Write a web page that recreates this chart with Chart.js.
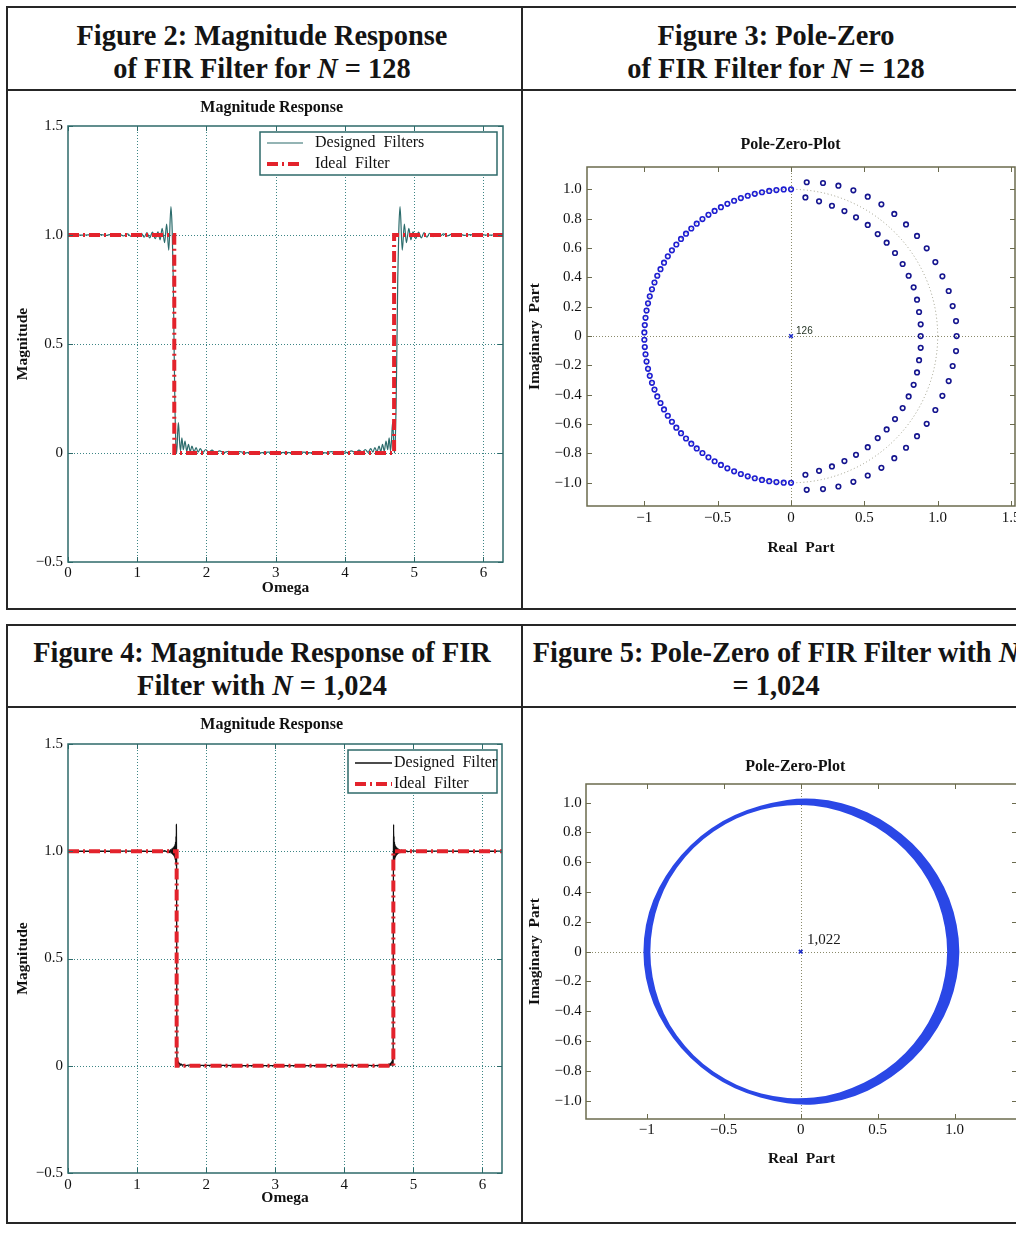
<!DOCTYPE html>
<html><head><meta charset="utf-8"><title>FIR filter figures</title>
<script src="https://cdn.jsdelivr.net/npm/chart.js@4.4.1/dist/chart.umd.min.js"></script>
<style>
html,body{margin:0;padding:0;width:1016px;height:1238px;overflow:hidden;background:#fff;}
.ln{position:absolute;background:#262626;}
.hd{position:absolute;font-family:"Liberation Serif","Times New Roman",serif;font-weight:bold;font-size:28.4px;line-height:33px;text-align:center;color:#141414;white-space:nowrap;}
canvas{position:absolute;}
</style></head><body>
<!-- top table -->
<div class="ln" style="left:6px;top:6px;width:1100px;height:2px"></div>
<div class="ln" style="left:6px;top:6px;width:2px;height:604px"></div>
<div class="ln" style="left:521px;top:6px;width:1.5px;height:604px"></div>
<div class="ln" style="left:6px;top:89px;width:1100px;height:2px"></div>
<div class="ln" style="left:6px;top:608px;width:1100px;height:2px"></div>
<!-- bottom table -->
<div class="ln" style="left:6px;top:624px;width:1100px;height:1.5px"></div>
<div class="ln" style="left:6px;top:624px;width:2px;height:600px"></div>
<div class="ln" style="left:521px;top:624px;width:1.5px;height:600px"></div>
<div class="ln" style="left:6px;top:706px;width:1100px;height:2px"></div>
<div class="ln" style="left:6px;top:1222px;width:1100px;height:2px"></div>

<div class="hd" style="left:6px;top:18.5px;width:512px">Figure 2: Magnitude Response<br>of FIR Filter for <i>N</i> = 128</div>
<div class="hd" style="left:522px;top:18.5px;width:508px">Figure 3: Pole-Zero<br>of FIR Filter for <i>N</i> = 128</div>
<div class="hd" style="left:6px;top:635.5px;width:512px">Figure 4: Magnitude Response of FIR<br>Filter with <i>N</i> = 1,024</div>
<div class="hd" style="left:522px;top:635.5px;width:508px">Figure 5: Pole-Zero of FIR Filter with <i>N</i><br>= 1,024</div>

<canvas id="c1" width="512" height="515" style="left:8px;top:92px"></canvas>
<canvas id="c2" width="520" height="515" style="left:523px;top:92px"></canvas>
<canvas id="c3" width="512" height="513" style="left:8px;top:709px"></canvas>
<canvas id="c4" width="520" height="513" style="left:523px;top:709px"></canvas>

<script>
// ---------- tick values and labels ----------
const omegaTicks = [0, 1, 2, 3, 4, 5, 6];
const omegaTickLabels = ['0', '1', '2', '3', '4', '5', '6'];
const magTicks = [-0.5, 0, 0.5, 1.0, 1.5];
const magTickLabels = ['\u22120.5', '0', '0.5', '1.0', '1.5'];
const reTicks128 = [-1, -0.5, 0, 0.5, 1.0, 1.5];
const reTickLabels128 = ['\u22121', '\u22120.5', '0', '0.5', '1.0', '1.5'];
const reTicks1024 = [-1, -0.5, 0, 0.5, 1.0];
const reTickLabels1024 = ['\u22121', '\u22120.5', '0', '0.5', '1.0'];
const imTicks = [-1.0, -0.8, -0.6, -0.4, -0.2, 0, 0.2, 0.4, 0.6, 0.8, 1.0];
const imTickLabels = ['\u22121.0', '\u22120.8', '\u22120.6', '\u22120.4', '\u22120.2', '0', '0.2', '0.4', '0.6', '0.8', '1.0'];

// ---------- Figure 2: magnitude response, N = 128 ----------
const fig2Omega = [0.00,0.10,0.20,0.30,0.40,0.48,0.55,0.62,0.68,0.74,0.80,0.86,0.91,0.96,1.01,1.06,1.10,1.14,1.18,1.22,1.26,1.30,1.33,1.36,1.395,1.425,1.455,1.487,1.505,1.520,1.532,1.545,1.557,1.570,1.585,1.595,1.610,1.625,1.645,1.665,1.690,1.715,1.740,1.765,1.790,1.820,1.850,1.880,1.910,1.950,1.990,2.030,2.080,2.130,2.190,2.250,2.320,2.400,2.480,2.570,2.670,2.780,2.900,3.020,3.140,
  3.263,3.383,3.503,3.613,3.713,3.803,3.883,3.963,4.033,4.093,4.153,4.203,4.253,4.293,4.333,4.373,4.403,4.433,4.463,4.493,4.518,4.543,4.568,4.593,4.618,4.638,4.658,4.673,4.688,4.698,4.713,4.726,4.738,4.751,4.763,4.778,4.796,4.828,4.858,4.888,4.923,4.953,4.983,5.023,5.063,5.103,5.143,5.183,5.223,5.273,5.323,5.373,5.423,5.483,5.543,5.603,5.663,5.733,5.803,5.883,5.983,6.083,6.183,6.283];
const fig2Mag = [1.000,1.001,0.999,1.001,0.999,1.002,0.998,1.003,0.997,1.004,0.996,1.005,0.994,1.006,0.993,1.008,0.990,1.011,0.987,1.013,0.983,1.015,0.978,1.030,0.965,1.050,0.930,1.130,1.020,0.800,0.500,0.200,0.040,0.000,0.100,0.140,0.060,0.010,0.070,0.015,0.055,0.008,0.040,0.006,0.032,0.005,0.025,0.004,0.020,0.003,0.016,0.003,0.013,0.002,0.010,0.002,0.008,0.002,0.006,0.001,0.005,0.001,0.004,0.001,0.003,
  0.001,0.004,0.001,0.005,0.001,0.006,0.002,0.008,0.002,0.010,0.002,0.013,0.003,0.016,0.003,0.020,0.004,0.025,0.005,0.032,0.006,0.040,0.008,0.055,0.015,0.070,0.010,0.060,0.140,0.100,0.000,0.040,0.200,0.500,0.800,1.020,1.130,0.930,1.050,0.965,1.030,0.978,1.015,0.983,1.013,0.987,1.011,0.990,1.008,0.993,1.006,0.994,1.005,0.996,1.004,0.997,1.003,0.998,1.002,0.999,1.001,0.999,1.001,1.000];
const idealOmega128 = [0, 1.535, 1.535, 4.71, 4.71, 6.283];
const idealMag128 = [1, 1, 0, 0, 1, 1];

// ---------- Figure 4: magnitude response, N = 1024 ----------
const fig4Omega = [0.00,0.60,1.00,1.20,1.30,1.36,1.40,1.43,1.455,1.470,1.485,1.495,1.505,1.513,1.520,1.527,1.533,1.538,1.543,1.547,1.551,1.554,1.557,1.560,1.563,1.566,1.569,1.572,1.574,1.576,1.578,1.581,1.584,1.587,1.591,1.595,1.600,1.606,1.613,1.621,1.630,1.642,1.656,1.672,1.70,1.75,1.85,2.00,2.50,3.14,
  3.783,4.283,4.433,4.533,4.583,4.611,4.627,4.641,4.653,4.662,4.670,4.677,4.683,4.688,4.692,4.696,4.699,4.702,4.705,4.707,4.709,4.711,4.714,4.717,4.720,4.723,4.726,4.729,4.732,4.736,4.740,4.745,4.750,4.756,4.763,4.770,4.778,4.788,4.798,4.813,4.828,4.853,4.883,4.923,4.983,5.083,5.283,5.683,6.283];
const fig4Mag = [1.000,1.000,1.001,0.999,1.002,0.998,1.003,0.997,1.005,0.994,1.008,0.990,1.012,0.986,1.016,0.982,1.020,0.976,1.026,0.968,1.034,0.958,1.045,0.945,1.070,0.930,1.125,0.950,0.500,0.060,0.000,0.040,0.002,0.028,0.003,0.020,0.003,0.014,0.002,0.010,0.002,0.007,0.002,0.005,0.001,0.003,0.001,0.002,0.001,0.001,
  0.001,0.002,0.001,0.003,0.001,0.005,0.002,0.007,0.002,0.010,0.002,0.014,0.003,0.020,0.003,0.028,0.002,0.040,0.000,0.060,0.500,0.950,1.125,0.930,1.070,0.945,1.045,0.958,1.034,0.968,1.026,0.976,1.020,0.982,1.016,0.986,1.012,0.990,1.008,0.994,1.005,0.997,1.003,0.998,1.002,0.999,1.001,1.000,1.000];
const idealOmega1024 = [0, 1.573, 1.573, 4.71, 4.71, 6.283];
const idealMag1024 = [1, 1, 0, 0, 1, 1];

// ---------- Figure 3: zeros / poles, N = 128 ----------
const zerosUnitRe = [0.000,-0.050,-0.100,-0.149,-0.198,-0.247,-0.295,-0.342,-0.388,-0.434,-0.478,-0.521,-0.563,-0.604,-0.643,-0.680,-0.716,-0.750,-0.782,-0.812,-0.840,-0.866,-0.890,-0.912,-0.931,-0.948,-0.963,-0.975,-0.985,-0.992,-0.997,-1.000,
  -1.000,-0.997,-0.992,-0.985,-0.975,-0.963,-0.948,-0.931,-0.912,-0.890,-0.866,-0.840,-0.812,-0.782,-0.750,-0.716,-0.680,-0.643,-0.604,-0.563,-0.521,-0.478,-0.434,-0.388,-0.342,-0.295,-0.247,-0.198,-0.149,-0.100,-0.050,0.000];
const zerosUnitIm = [1.000,0.999,0.995,0.989,0.980,0.969,0.956,0.940,0.922,0.901,0.878,0.853,0.826,0.797,0.766,0.733,0.698,0.662,0.624,0.584,0.543,0.500,0.456,0.411,0.365,0.319,0.271,0.223,0.174,0.124,0.075,0.025,
  -0.025,-0.075,-0.124,-0.174,-0.223,-0.271,-0.319,-0.365,-0.411,-0.456,-0.500,-0.543,-0.584,-0.624,-0.662,-0.698,-0.733,-0.766,-0.797,-0.826,-0.853,-0.878,-0.901,-0.922,-0.940,-0.956,-0.969,-0.980,-0.989,-0.995,-0.999,-1.000];
const zerosOuterRe = [0.107,0.218,0.323,0.425,0.523,0.616,0.704,0.784,0.859,0.925,0.984,1.032,1.075,1.102,1.125,1.129,1.125,1.102,1.075,1.032,0.984,0.925,0.859,0.784,0.704,0.616,0.523,0.425,0.323,0.218,0.107];
const zerosOuterIm = [1.048,1.043,1.025,0.993,0.950,0.898,0.832,0.761,0.682,0.598,0.504,0.407,0.307,0.204,0.102,0.000,-0.102,-0.204,-0.307,-0.407,-0.504,-0.598,-0.682,-0.761,-0.832,-0.898,-0.950,-0.993,-1.025,-1.043,-1.048];
const zerosInnerRe = [0.098,0.191,0.279,0.364,0.443,0.523,0.591,0.652,0.709,0.761,0.802,0.836,0.859,0.873,0.884,0.884,0.884,0.873,0.859,0.836,0.802,0.761,0.709,0.652,0.591,0.523,0.443,0.364,0.279,0.191,0.098];
const zerosInnerIm = [0.945,0.918,0.888,0.852,0.809,0.757,0.695,0.636,0.566,0.491,0.411,0.332,0.248,0.164,0.080,0.000,-0.080,-0.164,-0.248,-0.332,-0.411,-0.491,-0.566,-0.636,-0.695,-0.757,-0.809,-0.852,-0.888,-0.918,-0.945];
const pole128Re = [0];
const pole128Im = [0];
const pole128Label = '126';

// ---------- Figure 5: zero band, N = 1024 ----------
const ringOuterRe = [1.035,1.017,0.970,0.892,0.789,0.662,0.516,0.354,0.180,0.000,-0.177,-0.347,-0.508,-0.652,-0.777,-0.880,-0.960,-1.009,-1.025,-1.009,-0.960,-0.880,-0.777,-0.652,-0.508,-0.347,-0.177,0.000,0.180,0.354,0.516,0.662,0.789,0.892,0.970,1.017];
const ringOuterIm = [0.000,0.179,0.353,0.515,0.662,0.789,0.894,0.973,1.019,1.032,1.003,0.954,0.879,0.777,0.652,0.508,0.350,0.178,0.000,-0.178,-0.350,-0.508,-0.652,-0.777,-0.879,-0.954,-1.003,-1.032,-1.019,-0.973,-0.894,-0.789,-0.662,-0.515,-0.353,-0.179];
const ringInnerRe = [0.955,0.940,0.899,0.831,0.738,0.622,0.486,0.334,0.171,0.000,-0.172,-0.339,-0.494,-0.635,-0.755,-0.853,-0.923,-0.965,-0.980,-0.965,-0.923,-0.853,-0.755,-0.635,-0.494,-0.339,-0.172,0.000,0.171,0.334,0.486,0.622,0.738,0.831,0.899,0.940];
const ringInnerIm = [0.000,0.166,0.327,0.480,0.619,0.741,0.842,0.919,0.970,0.988,0.975,0.930,0.856,0.757,0.634,0.493,0.336,0.170,0.000,-0.170,-0.336,-0.493,-0.634,-0.757,-0.856,-0.930,-0.975,-0.988,-0.970,-0.919,-0.842,-0.741,-0.619,-0.480,-0.327,-0.166];
const pole1024Re = [0];
const pole1024Im = [0];
const pole1024Label = '1,022';

// ---------- helpers ----------
const SERIF = '"Liberation Serif", "Times New Roman", serif';
const tickFont = { family: SERIF, size: 15 };
const axisTitleFont = { family: SERIF, size: 15.5, weight: 'bold', lineHeight: 1.2 };
function pts(xs, ys) { return xs.map((v, i) => ({ x: v, y: ys[i] })); }
function fixedTicks(values) { return (s) => { s.ticks = values.map(v => ({ value: v })); }; }

const matlabAxes = {
  id: 'matlabAxes',
  beforeDatasetsDraw(chart, args, o) {
    const { ctx, chartArea: a } = chart;
    const xs = chart.scales.x, ys = chart.scales.y;
    ctx.save();
    ctx.beginPath(); ctx.rect(a.left, a.top, a.right - a.left, a.bottom - a.top); ctx.clip();
    ctx.lineWidth = 1;
    const vline = p => { ctx.beginPath(); ctx.moveTo(p, a.top); ctx.lineTo(p, a.bottom); ctx.stroke(); };
    const hline = p => { ctx.beginPath(); ctx.moveTo(a.left, p); ctx.lineTo(a.right, p); ctx.stroke(); };
    if (o.gridColor) {
      ctx.strokeStyle = o.gridColor; ctx.setLineDash(o.gridDash);
      xs.ticks.forEach(t => { const p = Math.round(xs.getPixelForValue(t.value)) + 0.5; if (p > a.left + 2 && p < a.right - 2) vline(p); });
      ys.ticks.forEach(t => { const p = Math.round(ys.getPixelForValue(t.value)) + 0.5; if (p > a.top + 2 && p < a.bottom - 2) hline(p); });
    }
    if (o.zeroColor) {
      ctx.strokeStyle = o.zeroColor; ctx.setLineDash(o.zeroDash);
      vline(Math.round(xs.getPixelForValue(0)) + 0.5);
      hline(Math.round(ys.getPixelForValue(0)) + 0.5);
    }
    if (o.circleColor) {
      const cx = xs.getPixelForValue(0), cy = ys.getPixelForValue(0);
      const rx = xs.getPixelForValue(1) - cx, ry = cy - ys.getPixelForValue(1);
      ctx.strokeStyle = o.circleColor; ctx.setLineDash(o.circleDash);
      ctx.beginPath(); ctx.ellipse(cx, cy, rx, ry, 0, 0, Math.PI * 2); ctx.stroke();
    }
    ctx.restore();
  },
  afterDatasetsDraw(chart, args, o) {
    const { ctx, chartArea: a } = chart;
    const xs = chart.scales.x, ys = chart.scales.y;
    const L = o.tickLen;
    ctx.save();
    ctx.strokeStyle = o.frameColor; ctx.lineWidth = 1;
    ctx.beginPath();
    xs.ticks.forEach(t => {
      const p = Math.round(xs.getPixelForValue(t.value)) + 0.5;
      ctx.moveTo(p, a.bottom); ctx.lineTo(p, a.bottom - L);
      ctx.moveTo(p, a.top); ctx.lineTo(p, a.top + L);
    });
    ys.ticks.forEach(t => {
      const p = Math.round(ys.getPixelForValue(t.value)) + 0.5;
      ctx.moveTo(a.left, p); ctx.lineTo(a.left + L, p);
      ctx.moveTo(a.right, p); ctx.lineTo(a.right - L, p);
    });
    ctx.stroke();
    ctx.lineWidth = o.frameWidth;
    ctx.strokeRect(a.left, a.top, a.right - a.left, a.bottom - a.top);
    ctx.restore();
  }
};

const matlabTitle = {
  id: 'matlabTitle',
  afterDraw(chart, args, o) {
    const { ctx, chartArea: a } = chart;
    ctx.save();
    ctx.font = o.font; ctx.fillStyle = '#111'; ctx.textAlign = 'center'; ctx.textBaseline = 'middle';
    ctx.fillText(o.text, (a.left + a.right) / 2 + o.dx, o.y);
    ctx.restore();
  }
};

const matlabLegend = {
  id: 'matlabLegend',
  afterDatasetsDraw(chart, args, o) {
    const { ctx, chartArea: a } = chart;
    const x0 = a.right - o.right - o.width, y0 = a.top + o.top;
    ctx.save();
    ctx.fillStyle = '#fff'; ctx.fillRect(x0, y0, o.width, o.height);
    ctx.strokeStyle = o.borderColor; ctx.lineWidth = 1.5; ctx.strokeRect(x0, y0, o.width, o.height);
    chart.data.datasets.forEach((ds, i) => {
      const y = y0 + o.rows[i];
      ctx.save();
      ctx.strokeStyle = ds.borderColor; ctx.lineWidth = ds.borderWidth; ctx.setLineDash(ds.borderDash || []);
      ctx.beginPath(); ctx.moveTo(x0 + o.lineStart, y); ctx.lineTo(x0 + o.lineEnd, y); ctx.stroke();
      ctx.restore();
      ctx.fillStyle = '#111'; ctx.font = o.font; ctx.textAlign = 'left'; ctx.textBaseline = 'middle';
      ctx.fillText(ds.label, x0 + o.textStart, y);
    });
    ctx.restore();
  }
};

const poleLabel = {
  id: 'poleLabel',
  afterDatasetsDraw(chart, args, o) {
    const { ctx } = chart;
    const px = chart.scales.x.getPixelForValue(o.x) + o.dx;
    const py = chart.scales.y.getPixelForValue(o.y) + o.dy;
    ctx.save();
    ctx.font = o.font; ctx.fillStyle = o.color; ctx.textAlign = 'left'; ctx.textBaseline = 'middle';
    ctx.fillText(o.text, px, py);
    ctx.restore();
  }
};

function smoothLoop(ctx, p) {
  const n = p.length;
  const mid = (a, b) => [(a.x + b.x) / 2, (a.y + b.y) / 2];
  const m0 = mid(p[n - 1], p[0]);
  ctx.moveTo(m0[0], m0[1]);
  for (let i = 0; i < n; i++) {
    const q = p[(i + 1) % n];
    const m = mid(p[i], q);
    ctx.quadraticCurveTo(p[i].x, p[i].y, m[0], m[1]);
  }
  ctx.closePath();
}

const ringFill = {
  id: 'ringFill',
  afterDatasetsDraw(chart, args, o) {
    const { ctx, chartArea: a } = chart;
    const outer = chart.getDatasetMeta(o.outer).data;
    const inner = chart.getDatasetMeta(o.inner).data;
    ctx.save();
    ctx.beginPath(); ctx.rect(a.left, a.top, a.right - a.left, a.bottom - a.top); ctx.clip();
    ctx.beginPath();
    smoothLoop(ctx, outer);
    smoothLoop(ctx, inner);
    ctx.fillStyle = o.color; ctx.fill('evenodd');
    ctx.restore();
  }
};

const basePlugins = { legend: { display: false }, title: { display: false }, tooltip: { enabled: false } };

function magChart(id, geo, designed, ideal, titleCfg, legendCfg) {
  return new Chart(document.getElementById(id), {
    type: 'scatter',
    data: { datasets: [designed, ideal] },
    options: {
      responsive: false, animation: false, devicePixelRatio: 1,
      layout: { padding: { left: 0, right: geo.padRight, top: geo.padTop, bottom: 0 } },
      scales: {
        x: { type: 'linear', min: 0, max: 6.283,
          afterFit: s => { s.height = geo.xHeight; }, afterBuildTicks: fixedTicks(omegaTicks),
          grid: { display: false, drawTicks: false }, border: { display: false },
          ticks: { callback: (v, i) => omegaTickLabels[i], padding: geo.xTickPad, autoSkip: false, maxRotation: 0, font: tickFont, color: '#111' },
          title: { display: true, text: 'Omega', font: axisTitleFont, color: '#111', padding: { top: 0, bottom: geo.xTitlePad } } },
        y: { type: 'linear', min: -0.5, max: 1.5,
          afterFit: s => { s.width = geo.yWidth; }, afterBuildTicks: fixedTicks(magTicks),
          grid: { display: false, drawTicks: false }, border: { display: false },
          ticks: { callback: (v, i) => magTickLabels[i], padding: 5, autoSkip: false, font: tickFont, color: '#111' },
          title: { display: true, text: 'Magnitude', font: axisTitleFont, color: '#111', padding: { top: 5.2, bottom: 0 } } }
      },
      plugins: Object.assign({}, basePlugins, {
        matlabAxes: { gridColor: '#3d8585', gridDash: [1, 2], frameColor: '#2e6a6a', frameWidth: 1.5, tickLen: 5 },
        matlabTitle: titleCfg,
        matlabLegend: legendCfg
      })
    },
    plugins: [matlabAxes, matlabTitle, matlabLegend]
  });
}

function pzChart(id, geo, datasets, extraPlugins, pluginOpts) {
  return new Chart(document.getElementById(id), {
    type: 'scatter',
    data: { datasets: datasets },
    options: {
      responsive: false, animation: false, devicePixelRatio: 1,
      layout: { padding: { left: 0, right: geo.padRight, top: geo.padTop, bottom: geo.padBottom } },
      scales: {
        x: { type: 'linear', min: geo.xMin, max: geo.xMax,
          afterFit: s => { s.height = 56; }, afterBuildTicks: fixedTicks(geo.xTicks),
          grid: { display: false, drawTicks: false }, border: { display: false },
          ticks: { callback: (v, i) => geo.xLabels[i], padding: geo.xTickPad, autoSkip: false, maxRotation: 0, font: tickFont, color: '#111' },
          title: { display: true, text: 'Real  Part', font: axisTitleFont, color: '#111', padding: { top: 0, bottom: geo.xTitlePad } } },
        y: { type: 'linear', min: geo.yMin, max: geo.yMax,
          afterFit: s => { s.width = geo.yWidth; }, afterBuildTicks: fixedTicks(imTicks),
          grid: { display: false, drawTicks: false }, border: { display: false },
          ticks: { callback: (v, i) => imTickLabels[i], padding: geo.yTickPad, autoSkip: false, font: tickFont, color: '#111' },
          title: { display: true, text: 'Imaginary  Part', font: axisTitleFont, color: '#111', padding: { top: 2.7, bottom: 0 } } }
      },
      plugins: Object.assign({}, basePlugins, pluginOpts)
    },
    plugins: extraPlugins
  });
}

// ---------- Figure 2 ----------
magChart('c1',
  { padRight: 17, padTop: 34, xHeight: 45, yWidth: 60, xTickPad: 2, xTitlePad: 9.4 },
  { label: 'Designed  Filters', data: pts(fig2Omega, fig2Mag), showLine: true, cubicInterpolationMode: 'monotone', borderColor: '#2b6b6b', borderWidth: 1.2, pointRadius: 0, order: 2 },
  { label: 'Ideal  Filter', data: pts(idealOmega128, idealMag128), showLine: true, borderColor: '#e3232c', borderWidth: 4, borderDash: [11, 4, 2, 4], pointRadius: 0, order: 1 },
  { text: 'Magnitude Response', font: 'bold 16px ' + SERIF, dx: -13.8, y: 16 },
  { right: 6, top: 6, width: 237, height: 43, rows: [11, 32], lineStart: 7, lineEnd: 43, textStart: 55, borderColor: '#2e6a6a', font: '16px ' + SERIF }
);

// ---------- Figure 4 ----------
magChart('c3',
  { padRight: 18, padTop: 35, xHeight: 49, yWidth: 60, xTickPad: 3, xTitlePad: 14.4 },
  { label: 'Designed  Filter', data: pts(fig4Omega, fig4Mag), showLine: true, cubicInterpolationMode: 'monotone', borderColor: '#111111', borderWidth: 1.3, pointRadius: 0, order: 2 },
  { label: 'Ideal  Filter', data: pts(idealOmega1024, idealMag1024), showLine: true, borderColor: '#e3232c', borderWidth: 4, borderDash: [11, 4, 2, 4], pointRadius: 0, order: 1 },
  { text: 'Magnitude Response', font: 'bold 16px ' + SERIF, dx: -13.3, y: 16 },
  { right: 5, top: 6, width: 149, height: 43, rows: [13, 34], lineStart: 7, lineEnd: 44, textStart: 46, borderColor: '#2e6a6a', font: '16px ' + SERIF }
);

// ---------- Figure 3 ----------
pzChart('c2',
  { padRight: 28, padTop: 75, padBottom: 45, yWidth: 64, xMin: -1.391, xMax: 1.527, yMin: -1.158, yMax: 1.152,
    xTicks: reTicks128, xLabels: reTickLabels128, xTickPad: 2.7, xTitlePad: 4.7, yTickPad: 5.3 },
  [
    { label: 'Zeros on unit circle', data: pts(zerosUnitRe, zerosUnitIm), pointStyle: 'circle', pointRadius: 2.3, borderWidth: 1.6, borderColor: '#1e1ed2', backgroundColor: 'rgba(0,0,0,0)' },
    { label: 'Zeros outside', data: pts(zerosOuterRe, zerosOuterIm), pointStyle: 'circle', pointRadius: 2.3, borderWidth: 1.6, borderColor: '#15158f', backgroundColor: 'rgba(0,0,0,0)' },
    { label: 'Zeros inside', data: pts(zerosInnerRe, zerosInnerIm), pointStyle: 'circle', pointRadius: 2.3, borderWidth: 1.6, borderColor: '#15158f', backgroundColor: 'rgba(0,0,0,0)' },
    { label: 'Poles', data: pts(pole128Re, pole128Im), pointStyle: 'crossRot', pointRadius: 2.6, borderWidth: 1.5, borderColor: '#1c2bc4' }
  ],
  [matlabAxes, matlabTitle, poleLabel],
  {
    matlabAxes: { zeroColor: '#8a8a6a', zeroDash: [1, 2], circleColor: '#9a9a86', circleDash: [1, 2.5], frameColor: '#6b6b4e', frameWidth: 1.5, tickLen: 5 },
    matlabTitle: { text: 'Pole-Zero-Plot', font: 'bold 16px ' + SERIF, dx: -10.5, y: 53 },
    poleLabel: { x: 0, y: 0, dx: 5, dy: -5, text: pole128Label, font: '10px "Liberation Sans", Arial, sans-serif', color: '#1f2f1f' }
  }
);

// ---------- Figure 5 ----------
pzChart('c4',
  { padRight: 26, padTop: 75, padBottom: 47, yWidth: 63, xMin: -1.394, xMax: 1.405, yMin: -1.123, yMax: 1.125,
    xTicks: reTicks1024, xLabels: reTickLabels1024, xTickPad: 2, xTitlePad: 6.7, yTickPad: 4.3 },
  [
    { label: 'Zero band outer edge', data: pts(ringOuterRe, ringOuterIm), pointRadius: 0 },
    { label: 'Zero band inner edge', data: pts(ringInnerRe, ringInnerIm), pointRadius: 0 },
    { label: 'Poles', data: pts(pole1024Re, pole1024Im), pointStyle: 'crossRot', pointRadius: 2.6, borderWidth: 1.6, borderColor: '#1c2bc4' }
  ],
  [matlabAxes, ringFill, matlabTitle, poleLabel],
  {
    matlabAxes: { zeroColor: '#8a8a6a', zeroDash: [1, 2], circleColor: '#9a9a86', circleDash: [1, 2.5], frameColor: '#6b6b4e', frameWidth: 1.5, tickLen: 5 },
    ringFill: { outer: 0, inner: 1, color: '#2a47e6' },
    matlabTitle: { text: 'Pole-Zero-Plot', font: 'bold 16px ' + SERIF, dx: -6.2, y: 57.7 },
    poleLabel: { x: 0, y: 0, dx: 6.3, dy: -11.7, text: pole1024Label, font: '15px ' + SERIF, color: '#1a1a1a' }
  }
);
</script>
</body></html>
